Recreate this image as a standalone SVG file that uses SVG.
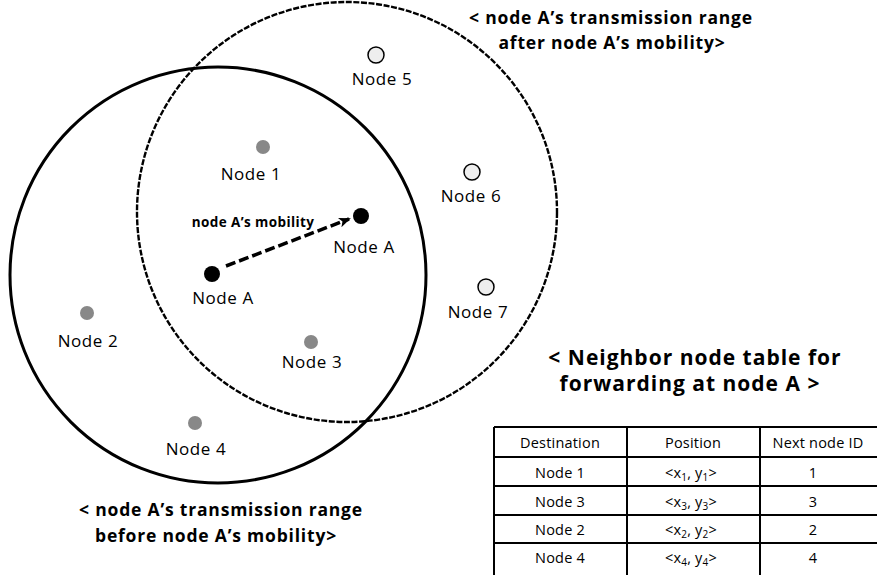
<svg xmlns="http://www.w3.org/2000/svg" width="877" height="575" viewBox="0 0 877 575">
<defs>
<style>
.lbl{font-family:"Open Sans","Noto Sans",sans-serif;font-size:17px;letter-spacing:0.6px;fill:#000;text-anchor:middle}
.ttl{font-family:"Open Sans","Noto Sans",sans-serif;font-weight:bold;font-size:17.5px;letter-spacing:0.8px;fill:#000;text-anchor:middle}
.big{font-family:"Open Sans","Noto Sans",sans-serif;font-weight:bold;font-size:21px;letter-spacing:1px;fill:#000;text-anchor:middle}
.tb{font-family:"Open Sans","Noto Sans",sans-serif;font-size:14.5px;letter-spacing:0.2px;fill:#000;text-anchor:middle}
.sub{font-size:10px}
.gray{fill:#888}
.blk{fill:#000}
.open{fill:#eee;stroke:#000;stroke-width:1.5}
.grid{stroke:#000;stroke-width:2;fill:none}
</style>
<marker id="ah" viewBox="0 0 12 10" refX="10" refY="5" markerWidth="12" markerHeight="10" markerUnits="userSpaceOnUse" orient="auto">
<path d="M0,0 L12,5 L0,10 L3,5 Z" fill="#000"/>
</marker>
</defs>
<g id="ranges">
<circle id="range-after" cx="347" cy="212" r="210" fill="none" stroke="#000" stroke-width="2.4" stroke-dasharray="6 1.6"/>
<circle id="range-before" cx="218" cy="275" r="208" fill="none" stroke="#000" stroke-width="3"/>
</g>
<g id="connectors">
<line x1="226" y1="266" x2="349" y2="219" stroke="#000" stroke-width="3.5" stroke-dasharray="10 4" marker-end="url(#ah)"/>
</g>
<g id="node5"><circle class="open" cx="376" cy="55" r="8"/><text class="lbl" x="382" y="85">Node 5</text></g>
<g id="node1"><circle class="gray" cx="263" cy="147" r="7"/><text class="lbl" x="251" y="180">Node 1</text></g>
<g id="node6"><circle class="open" cx="472" cy="172" r="8"/><text class="lbl" x="471" y="202">Node 6</text></g>
<g id="nodeA-after"><circle class="blk" cx="361" cy="216" r="8"/><text class="lbl" x="364" y="253">Node A</text></g>
<g id="mobility-label"><text class="ttl" x="253" y="227" style="font-size:13.5px;letter-spacing:0.4px">node A’s mobility</text></g>
<g id="nodeA-before"><circle class="blk" cx="212" cy="274" r="8"/><text class="lbl" x="223" y="304">Node A</text></g>
<g id="node7"><circle class="open" cx="486" cy="287" r="8"/><text class="lbl" x="478" y="318">Node 7</text></g>
<g id="node2"><circle class="gray" cx="87" cy="313" r="7"/><text class="lbl" x="88" y="347">Node 2</text></g>
<g id="node3"><circle class="gray" cx="311" cy="342" r="7"/><text class="lbl" x="312" y="368">Node 3</text></g>
<g id="node4"><circle class="gray" cx="195" cy="423" r="7"/><text class="lbl" x="196" y="455">Node 4</text></g>
<g id="title-after">
<text class="ttl" x="611" y="24">&lt; node A’s transmission range</text>
<text class="ttl" x="612" y="49">after node A’s mobility&gt;</text>
</g>
<g id="title-before">
<text class="ttl" x="221" y="516">&lt; node A’s transmission range</text>
<text class="ttl" x="216" y="542">before node A’s mobility&gt;</text>
</g>
<g id="title-table">
<text class="big" x="695" y="365">&lt; Neighbor node table for</text>
<text class="big" x="690" y="391">forwarding at node A &gt;</text>
</g>
<g id="table">
<path class="grid" d="M494,427 H880 M494,457 H880 M494,486 H880 M494,515 H880 M494,543 H880 M494,427 V580 M627,427 V580 M760,427 V580"/>
<text class="tb" x="560" y="448">Destination</text>
<text class="tb" x="693" y="448">Position</text>
<text class="tb" x="818" y="448">Next node ID</text>
<text class="tb" x="560" y="478">Node 1</text>
<text class="tb" x="691" y="478">&lt;x<tspan class="sub" dy="3">1</tspan><tspan dy="-3">, y</tspan><tspan class="sub" dy="3">1</tspan><tspan dy="-3">&gt;</tspan></text>
<text class="tb" x="813" y="478">1</text>
<text class="tb" x="560" y="507">Node 3</text>
<text class="tb" x="691" y="507">&lt;x<tspan class="sub" dy="3">3</tspan><tspan dy="-3">, y</tspan><tspan class="sub" dy="3">3</tspan><tspan dy="-3">&gt;</tspan></text>
<text class="tb" x="813" y="507">3</text>
<text class="tb" x="560" y="535">Node 2</text>
<text class="tb" x="691" y="535">&lt;x<tspan class="sub" dy="3">2</tspan><tspan dy="-3">, y</tspan><tspan class="sub" dy="3">2</tspan><tspan dy="-3">&gt;</tspan></text>
<text class="tb" x="813" y="535">2</text>
<text class="tb" x="560" y="563">Node 4</text>
<text class="tb" x="691" y="563">&lt;x<tspan class="sub" dy="3">4</tspan><tspan dy="-3">, y</tspan><tspan class="sub" dy="3">4</tspan><tspan dy="-3">&gt;</tspan></text>
<text class="tb" x="813" y="563">4</text>
</g>
</svg>
